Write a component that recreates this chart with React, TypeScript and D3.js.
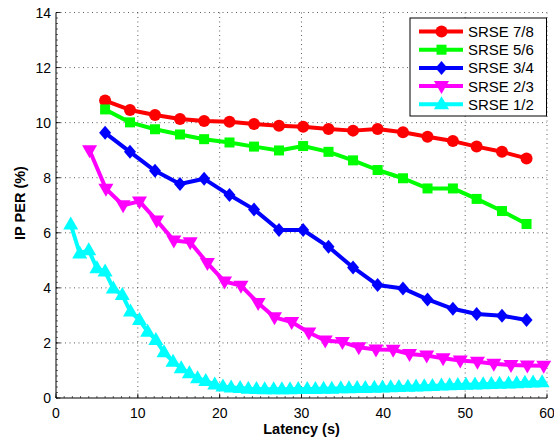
import React from "react";
import * as d3 from "d3";

// latency samples (s)
const xCoarse = [6, 9.04, 12.1, 15.15, 18.1, 21.2, 24.2, 27.25, 30.2, 33.3, 36.3, 39.3, 42.4, 45.4, 48.5, 51.4, 54.5, 57.5];
const xMid = [4.1, 6.1, 8.2, 10.2, 12.3, 14.4, 16.4, 18.5, 20.6, 22.6, 24.7, 26.7, 28.8, 30.9, 32.9, 35.0, 37.0, 39.1, 41.2, 43.2, 45.3, 47.3, 49.4, 51.5, 53.5, 55.6, 57.6, 59.6];
const xFine = [1.8, 2.9, 4.0, 5.0, 6.0, 7.0, 8.1, 9.1, 10.2, 11.2, 12.2, 13.2, 14.3, 15.3, 16.3, 17.3, 18.3, 19.4, 20.4, 21.4, 22.5, 23.5, 24.5, 25.5, 26.6, 27.6, 28.6, 29.6, 30.7, 31.7, 32.7, 33.7, 34.8, 35.8, 36.8, 37.8, 38.9, 39.9, 40.9, 41.9, 43.0, 44.0, 45.0, 46.0, 47.1, 48.1, 49.1, 50.1, 51.2, 52.2, 53.2, 54.2, 55.3, 56.3, 57.3, 58.3, 59.4];

const srse78 = [10.8, 10.46, 10.28, 10.13, 10.06, 10.03, 9.95, 9.89, 9.85, 9.77, 9.71, 9.77, 9.65, 9.49, 9.33, 9.13, 8.94, 8.7];
const srse56 = [10.48, 10.01, 9.76, 9.57, 9.4, 9.28, 9.13, 8.99, 9.15, 8.94, 8.63, 8.28, 7.98, 7.61, 7.61, 7.23, 6.79, 6.32];
const srse34 = [9.63, 8.94, 8.25, 7.77, 7.96, 7.37, 6.85, 6.1, 6.1, 5.49, 4.74, 4.1, 3.98, 3.58, 3.24, 3.05, 2.99, 2.83];
const srse23 = [9.0, 7.6, 7.0, 7.14, 6.45, 5.72, 5.66, 4.9, 4.23, 4.08, 3.45, 2.93, 2.76, 2.38, 2.09, 2.03, 1.84, 1.76, 1.75, 1.6, 1.54, 1.44, 1.36, 1.32, 1.24, 1.2, 1.18, 1.17];
const srse12 = [6.3, 5.25, 5.37, 4.71, 4.59, 3.98, 3.74, 3.14, 2.83, 2.41, 2.11, 1.66, 1.32, 1.08, 0.9, 0.72, 0.62, 0.49, 0.42, 0.38, 0.36, 0.34, 0.33, 0.32, 0.32, 0.32, 0.32, 0.33, 0.33, 0.33, 0.34, 0.34, 0.35, 0.35, 0.36, 0.36, 0.37, 0.38, 0.39, 0.4, 0.41, 0.42, 0.43, 0.44, 0.45, 0.46, 0.47, 0.48, 0.49, 0.5, 0.51, 0.52, 0.53, 0.54, 0.55, 0.56, 0.57];

const xTicks = [0, 10, 20, 30, 40, 50, 60];
const yTicks = [0, 2, 4, 6, 8, 10, 12, 14];

const seriesList = [
  { name: "SRSE 7/8", color: "#ff0000", marker: "circle", xs: xCoarse, ys: srse78 },
  { name: "SRSE 5/6", color: "#00ff00", marker: "square", xs: xCoarse, ys: srse56 },
  { name: "SRSE 3/4", color: "#0000ff", marker: "diamond", xs: xCoarse, ys: srse34 },
  { name: "SRSE 2/3", color: "#ff00ff", marker: "down", xs: xMid, ys: srse23 },
  { name: "SRSE 1/2", color: "#00ffff", marker: "up", xs: xFine, ys: srse12 },
];

const W = 554;
const H = 440;
const left = 56;
const right = 547;
const top = 12.5;
const bottom = 398;
const font = "'Liberation Sans', Arial, Helvetica, sans-serif";

function markerPath(kind: string): string {
  switch (kind) {
    case "circle": {
      const p = d3.path();
      p.arc(0, 0, 6, 0, Math.PI * 2);
      return p.toString();
    }
    case "square":
      return "M-5,-5H5V5H-5Z";
    case "diamond":
      return "M0,-7L6,0L0,7L-6,0Z";
    case "down":
      return "M-7.5,-5L7.5,-5L0,8Z";
    case "up":
      return "M0,-8L7.5,5L-7.5,5Z";
    default:
      return "";
  }
}

export default function App() {
  const x = d3.scaleLinear().domain([0, 60]).range([left, right]);
  const y = d3.scaleLinear().domain([0, 14]).range([bottom, top]);
  const xMinor = d3.range(0, 60.01, 1);
  const yMinor = d3.range(0, 14.01, 0.2);

  const legX = 410;
  const legY = 18;
  const rowH = 18.2;

  return (
    <svg
      width={W}
      height={H}
      style={{ position: "absolute", left: 0, top: 0, background: "#fff" }}
      fontFamily={font}
    >
      <rect x={0} y={0} width={W} height={H} fill="#fff" />
      {/* dotted grid */}
      {xTicks.slice(1).map((t) => (
        <line key={"gx" + t} x1={x(t)} x2={x(t)} y1={top} y2={bottom} stroke="#333" strokeWidth={0.8} strokeDasharray="1 3.5" />
      ))}
      {yTicks.slice(1).map((t) => (
        <line key={"gy" + t} x1={left} x2={right} y1={y(t)} y2={y(t)} stroke="#333" strokeWidth={0.8} strokeDasharray="1 3.5" />
      ))}
      {/* minor ticks */}
      {xMinor.map((t) => (
        <line key={"mx" + t} x1={x(t)} x2={x(t)} y1={bottom} y2={bottom - 2} stroke="#000" strokeWidth={0.6} />
      ))}
      {yMinor.map((t) => (
        <line key={"my" + t} x1={left} x2={left + 2} y1={y(t)} y2={y(t)} stroke="#000" strokeWidth={0.6} />
      ))}
      {/* major ticks + labels */}
      {xTicks.map((t) => (
        <g key={"tx" + t}>
          <line x1={x(t)} x2={x(t)} y1={bottom} y2={bottom - 4.5} stroke="#000" strokeWidth={0.8} />
          <text x={x(t)} y={417.5} textAnchor="middle" fontSize={14} fill="#000">{t}</text>
        </g>
      ))}
      {yTicks.map((t) => (
        <g key={"ty" + t}>
          <line x1={left} x2={left + 4.5} y1={y(t)} y2={y(t)} stroke="#000" strokeWidth={0.8} />
          <text x={51} y={y(t)} dy="0.36em" textAnchor="end" fontSize={14} fill="#000">{t}</text>
        </g>
      ))}
      <line x1={left} x2={left} y1={top} y2={bottom} stroke="#000" strokeWidth={1} />
      <line x1={left} x2={right} y1={bottom} y2={bottom} stroke="#000" strokeWidth={1} />
      <text x={(left + right) / 2} y={434} textAnchor="middle" fontSize={14.5} fontWeight="bold">Latency (s)</text>
      <text transform={`translate(25,203) rotate(-90)`} textAnchor="middle" fontSize={14.5} fontWeight="bold">IP PER (%)</text>

      {/* series */}
      {seriesList.map((s) => {
        const pts: [number, number][] = s.xs.map((v, i) => [v, s.ys[i]]);
        const line = d3.line<[number, number]>().x((d) => x(d[0])).y((d) => y(d[1]));
        const mp = markerPath(s.marker);
        return (
          <g key={s.name}>
            <path d={line(pts) || ""} fill="none" stroke={s.color} strokeWidth={4} strokeLinejoin="round" />
            {pts.map((d, i) => (
              <path key={i} d={mp} transform={`translate(${x(d[0])},${y(d[1])})`} fill={s.color} />
            ))}
          </g>
        );
      })}

      {/* legend */}
      <rect x={legX} y={legY} width={136.5} height={98} fill="#fff" stroke="#000" strokeWidth={1} />
      {seriesList.map((s, i) => {
        const cy = legY + 13.5 + i * rowH;
        return (
          <g key={"lg" + s.name}>
            <line x1={419} x2={463} y1={cy} y2={cy} stroke={s.color} strokeWidth={4} />
            <path d={markerPath(s.marker)} transform={`translate(441.5,${cy})`} fill={s.color} />
            <text x={468} y={cy} dy="0.36em" fontSize={15} fill="#000">{s.name}</text>
          </g>
        );
      })}
    </svg>
  );
}
